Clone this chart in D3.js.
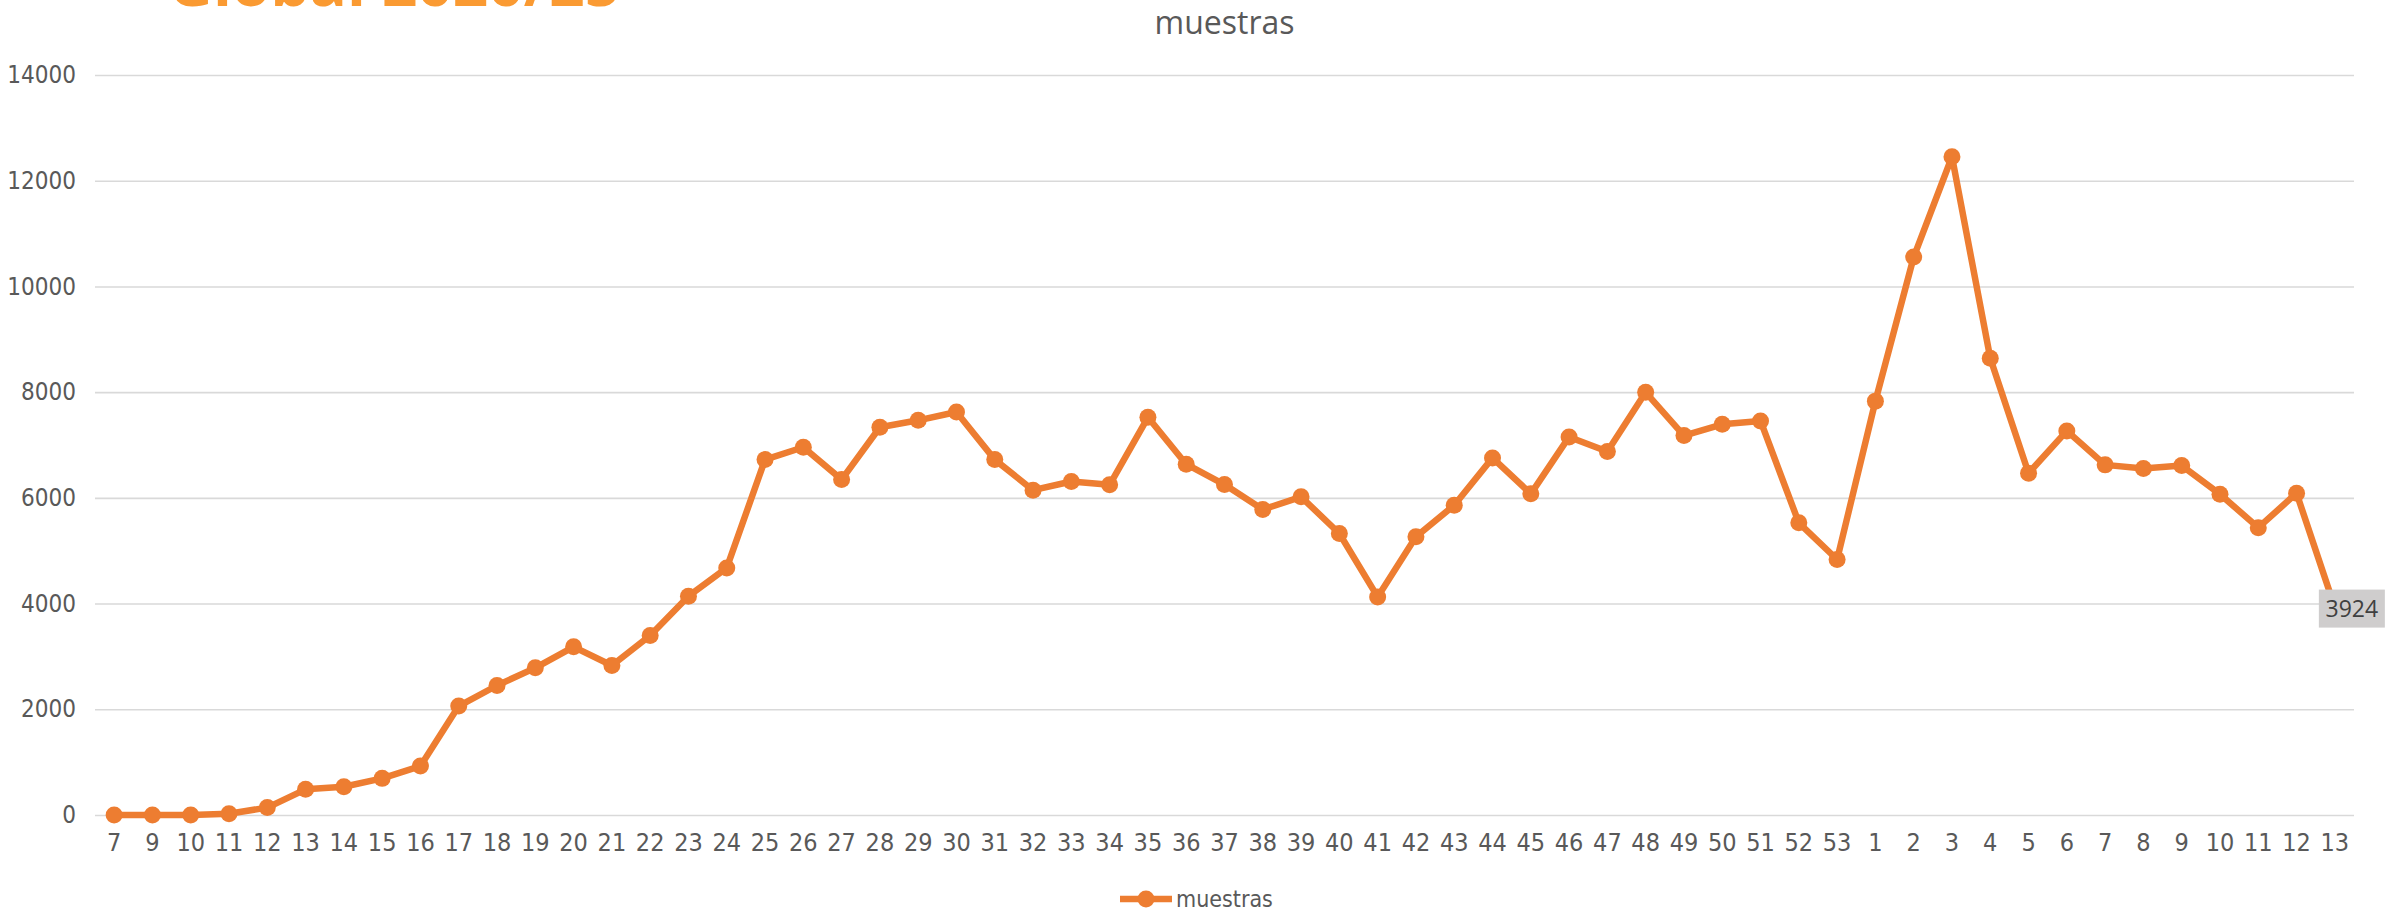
<!DOCTYPE html>
<html>
<head>
<meta charset="utf-8">
<script src="https://cdn.jsdelivr.net/npm/d3@7"></script>
<style>
  body { margin: 0; background: #fff; }
  .tick text { font-family: "Liberation Sans Narrow", "DejaVu Sans Condensed", sans-serif; fill: #595959; }
</style>
</head>
<body>
<div id="chart"></div>
<script>

// week labels (2020 wk 7 ... 2021 wk 13)
const weeks = ["7","9","10","11","12","13","14","15","16","17","18","19","20","21","22","23","24",
  "25","26","27","28","29","30","31","32","33","34","35","36","37","38","39","40","41","42","43","44",
  "45","46","47","48","49","50","51","52","53","1","2","3","4","5","6","7","8","9","10","11","12","13"]

const muestras = [0,0,0,25,140,485,535,693,926,
  2060,2450,2784,3181,2828,3395,4139,4674,
  6724,6957,6346,7335,7467,7625,6724,6145,6309,6246,
  7524,6636,6252,5780,6019,5326,4126,5263,5861,6756,
  6076,7153,6876,7997,7178,7392,7455,5528,4834,
  7830,10555,12454,8643,6466,7267,6624,6554,6611,6069,5436,6088,3924]

const yTicks = [0,2000,4000,6000,8000,10000,12000,14000]

const seriesName = "muestras"
const lastLabel = "3924"

const config = {
    top: 75,
    right: 43,
    bottom: 98,
    left: 95,
}

const width = 2397
const height = 913
const orange = "#ED7D31"

const svg = d3.select('#chart').append('svg').attr("width", width).attr("height", height)

const xScale = d3.scaleBand().domain(d3.range(weeks.length)).range([config.left, width - config.right]).padding(0)
const yScale = d3.scaleLinear().domain([0, 14000]).range([height - config.bottom, config.top])

const xc = i => xScale(i) + xScale.bandwidth() / 2

// gridlines + y labels
const axisLeft = d3.axisLeft(yScale).tickValues(yTicks).tickFormat(d3.format("d"))
    .tickSize(-(width - config.left - config.right)).tickPadding(19)
const gy = svg.append('g')
    .attr("transform", `translate(${config.left},0)`)
    .call(axisLeft)
gy.select(".domain").remove()
gy.selectAll(".tick line").attr("stroke", "#d9d9d9").attr("stroke-width", 1.6)
gy.selectAll(".tick text").style("font-size", "24px")

// x labels
const axisBottom = d3.axisBottom(xScale).tickFormat(i => weeks[i]).tickSize(0).tickPadding(18)
const gx = svg.append('g')
    .attr("transform", `translate(0,${height - config.bottom})`)
    .call(axisBottom)
gx.select(".domain").remove()
gx.selectAll(".tick text").style("font-size", "25px")

// the line
const lineGenerator = d3.line()
    .x((d, i) => xc(i))
    .y(d => yScale(d))

svg.append('path')
    .datum(muestras)
    .attr("d", lineGenerator)
    .attr("fill", "none")
    .attr("stroke", orange)
    .attr("stroke-width", 6.5)
    .attr("stroke-linejoin", "round")

svg.selectAll('circle.pt')
    .data(muestras)
    .enter()
    .append('circle')
    .attr("class", "pt")
    .attr("cx", (d, i) => xc(i))
    .attr("cy", d => yScale(d))
    .attr("r", 8.5)
    .attr("fill", orange)

// data label on last point
const li = muestras.length - 1
const lx = xc(li)
const ly = yScale(muestras[li])
svg.append('rect')
    .attr("x", lx - 16)
    .attr("y", ly - 18)
    .attr("width", 66)
    .attr("height", 38)
    .attr("fill", "#cfcdcd")
svg.append('text')
    .attr("x", lx + 17)
    .attr("y", ly + 9)
    .attr("text-anchor", "middle")
    .style("font-family", "'Open Sans', sans-serif")
    .style("font-size", "23px")
    .attr("fill", "#404040")
    .text(lastLabel)

// chart title
svg.append('text')
    .attr("x", (config.left + width - config.right) / 2)
    .attr("y", 34)
    .attr("text-anchor", "middle")
    .style("font-family", "'Open Sans', sans-serif")
    .style("font-size", "32px")
    .attr("fill", "#595959")
    .text(seriesName)

// clipped heading in the corner
svg.append('text')
    .attr("x", 168)
    .attr("y", 6)
    .style("font-family", "'Open Sans', sans-serif")
    .style("font-weight", "bold")
    .style("font-size", "62px")
    .attr("fill", "#fa9a32")
    .text("Global 2020/25")

// legend
const legX = 1120
const legY = 899
svg.append('line')
    .attr("x1", legX).attr("x2", legX + 52)
    .attr("y1", legY).attr("y2", legY)
    .attr("stroke", orange).attr("stroke-width", 6.5)
svg.append('circle')
    .attr("cx", legX + 26).attr("cy", legY).attr("r", 8.5).attr("fill", orange)
svg.append('text')
    .attr("x", legX + 56)
    .attr("y", legY + 8)
    .style("font-family", "'Liberation Sans Narrow', 'DejaVu Sans Condensed', sans-serif")
    .style("font-size", "23px")
    .attr("fill", "#595959")
    .text(seriesName)

</script>
</body>
</html>
